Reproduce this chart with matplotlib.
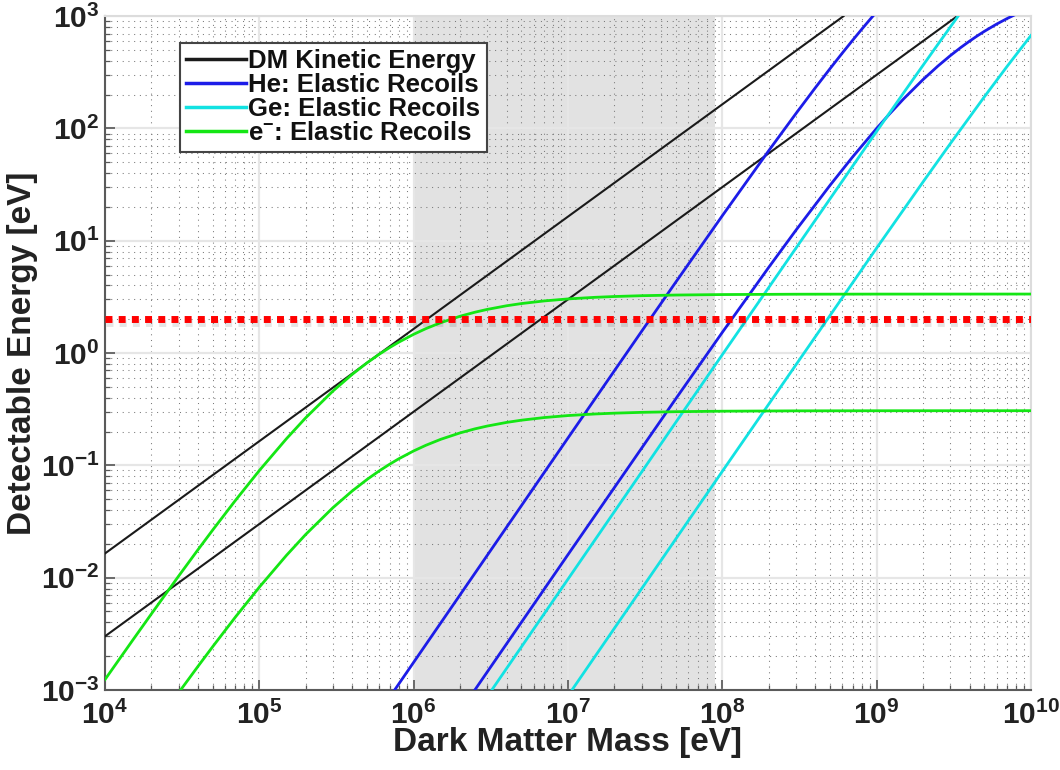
import matplotlib
matplotlib.use("Agg")
import matplotlib.pyplot as plt
import matplotlib.patheffects as pe

# ---------------------------------------------------------------------------
# values (mass in eV, energy in eV)
# ---------------------------------------------------------------------------
dm_fast_mass = [1e4, 6.1e8]
dm_fast_E = [0.0164, 1000]
dm_slow_mass = [1e4, 3.33e9]
dm_slow_E = [0.003, 1000]

he_fast_mass = [7e5, 1e6, 1e7, 3e7, 5e7, 1e8, 2e8, 3e8, 4e8, 5e8, 6e8, 7e8,
                8e8, 9e8, 1e9]
he_fast_E = [8.622e-4, 1.759e-3, 0.1751, 1.559, 4.285, 16.69, 63.42, 135.7,
             229.7, 342.1, 470.1, 611.3, 763.5, 925.0, 1094]
he_slow_mass = [2e6, 3e6, 1e7, 5e7, 1e8, 2e8, 3e8, 5e8, 7e8, 1e9, 1.2e9,
                1.5e9, 2e9, 2.5e9, 3e9, 3.5e9, 4e9, 4.5e9, 5e9, 6e9, 7e9, 8e9]
he_slow_E = [6.433e-4, 1.4465e-3, 0.01601, 0.3919, 1.527, 5.800, 12.41, 31.29,
             55.91, 100.1, 132.65, 184.2, 272.7, 360.4, 444.7, 524.5, 599.2,
             669.0, 734.1, 850.9, 952.3, 1040.7]

ge_fast_mass = [2e6, 3e6, 1e7, 1e8, 1e9, 1.5e9, 2e9, 2.5e9, 3e9, 3.5e9, 4e9]
ge_fast_E = [3.876e-4, 8.720e-4, 9.687e-3, 0.9661, 94.10, 208.7, 365.7, 563.3,
             799.6, 1073.2, 1382]
ge_slow_mass = [1e7, 1e8, 1e9, 2e9, 3e9, 5e9, 7e9, 1e10]
ge_slow_E = [8.860e-4, 0.08837, 8.606, 33.45, 73.14, 192.1, 356.7, 672.8]

el_fast_mass = [1e4, 1.5e4, 2e4, 3e4, 4e4, 5e4, 7e4, 1e5, 1.5e5, 2e5, 3e5,
                4e5, 5e5, 6e5, 7e5, 8e5, 1e6, 1.2e6, 1.5e6, 2e6, 2.5e6, 3e6,
                4e6, 5e6, 7e6, 1e7, 1.5e7, 2e7, 3e7, 5e7, 1e8, 3e8, 1e9, 1e10]
el_fast_E = [1.235e-3, 2.726e-3, 4.755e-3, 0.010307, 0.017665, 0.02663,
             0.04866, 0.08979, 0.1726, 0.2652, 0.4587, 0.6462, 0.8199, 0.9776,
             1.120, 1.248, 1.468, 1.649, 1.865, 2.127, 2.311, 2.447, 2.636,
             2.759, 2.911, 3.034, 3.135, 3.187, 3.241, 3.285, 3.318, 3.341,
             3.349, 3.352]
el_slow_mass = [3e4, 4e4, 5e4, 7e4, 1e5, 1.5e5, 2e5, 3e5, 4e5, 5e5, 6e5, 7e5,
                8e5, 1e6, 1.2e6, 1.5e6, 2e6, 2.5e6, 3e6, 4e6, 5e6, 7e6, 1e7,
                1.5e7, 2e7, 3e7, 5e7, 1e8, 3e8, 1e9, 1e10]
el_slow_E = [9.43e-4, 1.616e-3, 2.436e-3, 4.451e-3, 8.213e-3, 0.01579,
             0.02426, 0.04195, 0.05911, 0.07499, 0.08942, 0.1024, 0.1142,
             0.1343, 0.1508, 0.1706, 0.1945, 0.2114, 0.2238, 0.2411, 0.2524,
             0.2663, 0.2775, 0.2867, 0.2915, 0.2964, 0.3004, 0.3035, 0.3056,
             0.3063, 0.3066]

threshold_mass = [1e4, 1e10]
threshold_E = [2.0, 2.0]

band_mass = [1e6, 9e7]

x_exponents = [4, 5, 6, 7, 8, 9, 10]
y_exponents = [-3, -2, -1, 0, 1, 2, 3]

labels = ["DM Kinetic Energy", "He: Elastic Recoils", "Ge: Elastic Recoils",
          r"e$^{\mathbf{-}}$: Elastic Recoils"]

# ---------------------------------------------------------------------------
plt.rcParams["font.family"] = ["Liberation Sans", "DejaVu Sans"]
plt.rcParams["font.weight"] = "bold"
plt.rcParams["mathtext.fontset"] = "custom"
plt.rcParams["mathtext.rm"] = "Liberation Sans:bold"
plt.rcParams["mathtext.bf"] = "Liberation Sans:bold"
plt.rcParams["mathtext.it"] = "Liberation Sans:bold:italic"

TEXT = "#222222"
BLACK = "#1a1a1a"
BLUE = "#1c1ce8"
CYAN = "#12e2e2"
GREEN = "#14e614"

fig = plt.figure(figsize=(10.6, 7.7), dpi=100)
ax = fig.add_axes([0.099, 0.104, 0.8736, 0.875])
ax.set_xscale("log")
ax.set_yscale("log")

ax.axvspan(band_mass[0], band_mass[1], color="#e2e2e2", zorder=0.2, lw=0)

ax.plot(dm_fast_mass, dm_fast_E, color=BLACK, lw=1.5, label=labels[0], zorder=3)
ax.plot(dm_slow_mass, dm_slow_E, color=BLACK, lw=1.5, zorder=3)
ax.plot(he_fast_mass, he_fast_E, color=BLUE, lw=2, label=labels[1], zorder=3)
ax.plot(he_slow_mass, he_slow_E, color=BLUE, lw=2, zorder=3)
ax.plot(ge_fast_mass, ge_fast_E, color=CYAN, lw=2, label=labels[2], zorder=3)
ax.plot(ge_slow_mass, ge_slow_E, color=CYAN, lw=2, zorder=3)
ax.plot(el_fast_mass, el_fast_E, color=GREEN, lw=2, label=labels[3], zorder=3)
ax.plot(el_slow_mass, el_slow_E, color=GREEN, lw=2, zorder=3)

red, = ax.plot(threshold_mass, threshold_E, color="#ff0000", lw=5,
               dashes=(1.0, 0.9), dash_capstyle="butt", zorder=4)
red.set_path_effects([pe.SimpleLineShadow(offset=(0.5, -3), shadow_color="k",
                                          alpha=0.1),
                      pe.Normal()])

ax.set_xlim(1e4, 1e10)
ax.set_ylim(1e-3, 1e3)

# MATLAB-like grid: solid light major, dotted minor
ax.set_axisbelow(True)
ax.grid(True, which="major", color="#e6e6e6", lw=1.6, ls="-")
ax.grid(True, which="minor", color="#7a7a7a", lw=0.75, dashes=(1, 4.5))

ax.set_xticks([10.0 ** e for e in x_exponents])
ax.set_xticklabels([r"$\mathbf{10^{%d}}$" % e for e in x_exponents])
ax.set_yticks([10.0 ** e for e in y_exponents])
ax.set_yticklabels([r"$\mathbf{10^{%d}}$" % e for e in y_exponents])

ax.tick_params(which="both", direction="in", top=False, right=False,
               colors="#555555", labelcolor=TEXT)
ax.tick_params(which="major", length=7, width=1.2, labelsize=21.5)
ax.tick_params(axis="x", which="major", pad=8)
ax.tick_params(axis="y", which="major", pad=4)
ax.tick_params(which="minor", length=3.5, width=0.9)

for side in ("left", "bottom"):
    ax.spines[side].set_color("#5a5a5a")
    ax.spines[side].set_linewidth(1.5)
for side in ("top", "right"):
    ax.spines[side].set_color("#dcdcdc")
    ax.spines[side].set_linewidth(1.5)

ax.set_xlabel("Dark Matter Mass [eV]", fontsize=24, fontweight="bold",
              color=TEXT, labelpad=-2)
ax.set_ylabel("Detectable Energy [eV]", fontsize=24, fontweight="bold",
              color=TEXT, labelpad=2)

leg = ax.legend(loc="upper left", bbox_to_anchor=(180 / 1060, 1 - 43 / 770),
                bbox_transform=fig.transFigure, borderaxespad=0,
                fontsize=18.5, handlelength=2.3, handletextpad=0.1,
                labelspacing=0.0, borderpad=0.25, fancybox=False,
                framealpha=1, edgecolor="#444444")
leg.get_frame().set_linewidth(1.5)
for line in leg.get_lines():
    line.set_linewidth(2.5)
for txt in leg.get_texts():
    txt.set_color("#111111")

fig.savefig("out.png", dpi=100)
